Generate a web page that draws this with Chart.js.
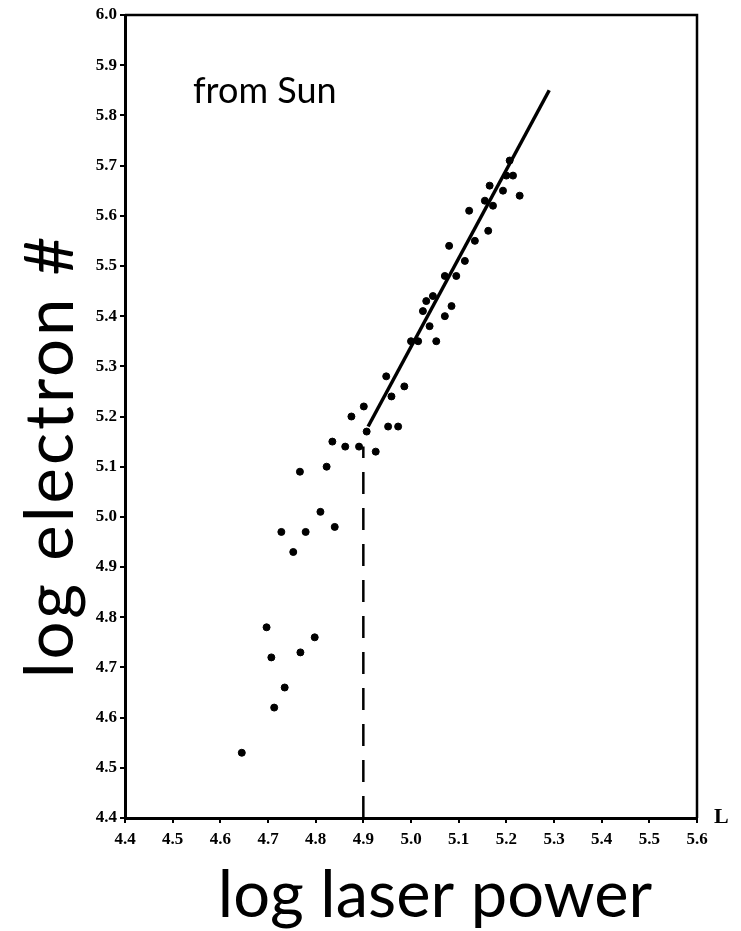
<!DOCTYPE html>
<html>
<head>
<meta charset="utf-8">
<script src="https://cdn.jsdelivr.net/npm/chart.js@4.4.1/dist/chart.umd.min.js"></script>
<style>
  html, body { margin: 0; padding: 0; background: #fff; }
  #wrap { width: 741px; height: 931px; position: relative; }
</style>
</head>
<body>
<div id="wrap"><canvas id="chart"></canvas></div>
<script>
// measured points: log laser power (x) vs log electron # (y)
const powerX = [
  4.645, 4.697, 4.707, 4.713, 4.735, 4.768, 4.798,
  4.728, 4.753, 4.779, 4.810, 4.840, 4.767, 4.823,
  4.835, 4.862, 4.891, 4.875, 4.901, 4.907, 4.926,
  4.952, 4.973, 4.959, 4.986, 4.948,
  5.000, 5.015, 5.025, 5.032, 5.039, 5.046, 5.053,
  5.071, 5.085, 5.071, 5.095, 5.113, 5.080, 5.134,
  5.162, 5.122, 5.155, 5.172, 5.165, 5.193, 5.207,
  5.228, 5.214, 5.200
];
const electronY = [
  4.53, 4.78, 4.72, 4.62, 4.66, 4.73, 4.76,
  4.97, 4.93, 4.97, 5.01, 4.98, 5.09, 5.10,
  5.15, 5.14, 5.14, 5.20, 5.22, 5.17, 5.13,
  5.18, 5.18, 5.24, 5.26, 5.28,
  5.35, 5.35, 5.41, 5.43, 5.38, 5.44, 5.35,
  5.40, 5.42, 5.48, 5.48, 5.51, 5.54, 5.55,
  5.57, 5.61, 5.63, 5.62, 5.66, 5.65, 5.71,
  5.64, 5.68, 5.68
];
// fitted line and threshold marker
const fitX = [4.91, 5.29];
const fitY = [5.18, 5.85];
const thresholdX = [4.9, 4.9];
const thresholdY = [4.4, 5.14];

const tickValues = [4.4, 4.5, 4.6, 4.7, 4.8, 4.9, 5.0, 5.1, 5.2, 5.3, 5.4, 5.5, 5.6];
const yTickValues = [4.4, 4.5, 4.6, 4.7, 4.8, 4.9, 5.0, 5.1, 5.2, 5.3, 5.4, 5.5, 5.6, 5.7, 5.8, 5.9, 6.0];

const toPoints = (xs, ys) => xs.map((x, i) => ({ x: x, y: ys[i] }));

const tickFont = { family: '"Liberation Serif", serif', size: 17, weight: 'bold' };

// frame on top/right and the text labels
const extras = {
  id: 'extras',
  afterDraw(chart) {
    const ctx = chart.ctx;
    const a = chart.chartArea;
    ctx.save();
    ctx.strokeStyle = '#000';
    ctx.lineWidth = 2.5;
    ctx.beginPath();
    ctx.moveTo(a.left, a.top);
    ctx.lineTo(a.right, a.top);
    ctx.lineTo(a.right, a.bottom);
    ctx.stroke();

    ctx.fillStyle = '#000';
    ctx.textBaseline = 'alphabetic';
    ctx.font = '36px Lato, "Open Sans", sans-serif';
    ctx.textAlign = 'left';
    ctx.fillText('from Sun', 193, 103);

    ctx.font = '65px Lato, "Open Sans", sans-serif';
    ctx.textAlign = 'center';
    ctx.fillText('log laser power', 435, 917);

    ctx.save();
    ctx.translate(73, 456);
    ctx.rotate(-Math.PI / 2);
    ctx.font = '67px Lato, "Open Sans", sans-serif';
    ctx.letterSpacing = '3px';
    ctx.fillText('log electron #', 0, 0);
    ctx.restore();

    ctx.font = 'bold 22px "Liberation Serif", serif';
    ctx.textAlign = 'left';
    ctx.fillText('L', 714, 823);
    ctx.restore();
  }
};

new Chart(document.getElementById('chart'), {
  type: 'scatter',
  data: {
    datasets: [
      {
        label: 'data',
        data: toPoints(powerX, electronY),
        backgroundColor: '#000',
        borderColor: '#000',
        pointRadius: 3.5,
        pointHoverRadius: 3.5
      },
      {
        label: 'fit',
        type: 'line',
        data: toPoints(fitX, fitY),
        borderColor: '#000',
        borderWidth: 3.5,
        pointRadius: 0
      },
      {
        label: 'threshold',
        type: 'line',
        data: toPoints(thresholdX, thresholdY),
        borderColor: '#000',
        borderWidth: 2.5,
        borderDash: [22, 14],
        pointRadius: 0
      }
    ]
  },
  options: {
    responsive: true,
    maintainAspectRatio: false,
    animation: false,
    layout: { padding: { top: 15, right: 44, left: 0, bottom: 0 } },
    plugins: {
      legend: { display: false },
      tooltip: { enabled: false }
    },
    scales: {
      x: {
        type: 'linear',
        min: 4.4,
        max: 5.6,
        afterFit: (s) => { s.height = 113; },
        afterBuildTicks: (s) => { s.ticks = tickValues.map(v => ({ value: v })); },
        grid: { drawOnChartArea: false, tickLength: 5, color: '#000', lineWidth: 2 },
        border: { color: '#000', width: 3 },
        ticks: {
          color: '#000',
          font: tickFont,
          padding: 6,
          maxRotation: 0,
          autoSkip: false,
          callback: (v) => v.toFixed(1)
        }
      },
      y: {
        type: 'linear',
        min: 4.4,
        max: 6.0,
        afterFit: (s) => { s.width = 125; },
        afterBuildTicks: (s) => { s.ticks = yTickValues.map(v => ({ value: v })); },
        grid: { drawOnChartArea: false, tickLength: 5, color: '#000', lineWidth: 2 },
        border: { color: '#000', width: 3 },
        ticks: {
          color: '#000',
          font: tickFont,
          padding: 3,
          autoSkip: false,
          callback: (v) => v.toFixed(1)
        }
      }
    }
  },
  plugins: [extras]
});
</script>
</body>
</html>
